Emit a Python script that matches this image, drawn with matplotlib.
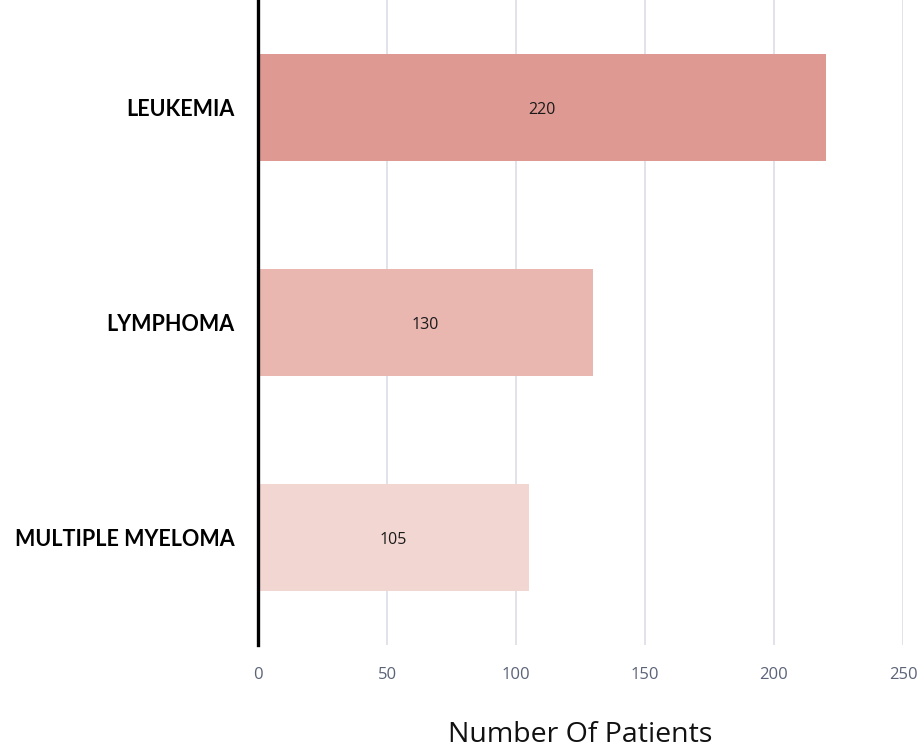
import matplotlib
matplotlib.use("Agg")
import matplotlib.pyplot as plt

categories = ["LEUKEMIA", "LYMPHOMA", "MULTIPLE MYELOMA"]
patients = [220, 130, 105]
bar_colors = ["#DE9A92", "#E9B7B0", "#F2D6D1"]
x_ticks = [0, 50, 100, 150, 200, 250]

plt.rcParams['font.family'] = ['Lato', 'DejaVu Sans']

fig = plt.figure(figsize=(9.22, 7.49), dpi=100)
ax = fig.add_axes([258/922, 1 - 645/749, 645/922, 645/749])

y = list(range(len(categories)))
bars = ax.barh(y, patients, height=0.5, color=bar_colors, zorder=2)
for b, v in zip(bars, patients):
    ax.text(v / 2, b.get_y() + b.get_height() / 2 + 0.01, str(v),
            ha='center', va='center', fontsize=11.5, color='#1a1a1a',
            family=['Open Sans', 'DejaVu Sans'], zorder=3)

ax.set_xlim(0, 250)
ax.set_ylim(2.5, -0.5)
ax.set_xticks(x_ticks)
ax.set_xticklabels([str(t) for t in x_ticks], fontsize=12, color='#5b6377',
                   family=['Open Sans', 'DejaVu Sans'])
ax.set_yticks(y)
ax.set_yticklabels(categories, fontsize=15.5, fontweight='bold', color='black')
ax.tick_params(axis='x', length=0, pad=16)
ax.tick_params(axis='y', length=0, pad=17)

ax.grid(axis='x', color='#e2e2ea', linewidth=1.4, zorder=0)
ax.grid(axis='y', visible=False)
for s in ['top', 'right', 'bottom']:
    ax.spines[s].set_visible(False)
ax.spines['left'].set_linewidth(2.4)
ax.spines['left'].set_color('black')
ax.spines['left'].set_zorder(4)

ax.set_xlabel("Number Of Patients", fontsize=20.5, color='#111111', labelpad=27,
              family=['Open Sans', 'DejaVu Sans'])

fig.savefig("out.png", dpi=100)
